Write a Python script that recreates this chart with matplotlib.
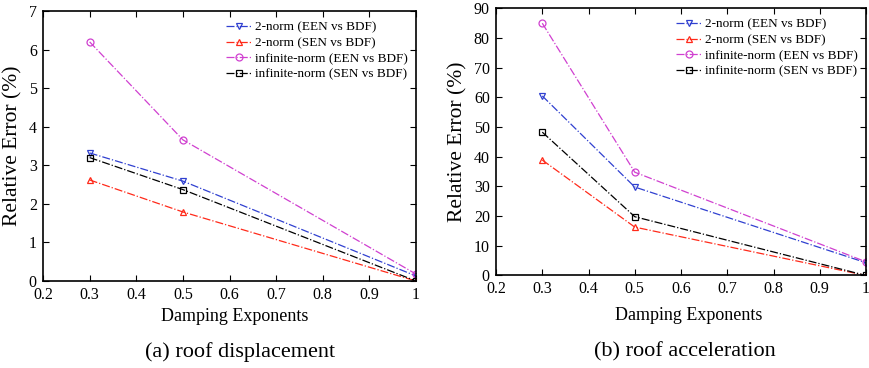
import matplotlib
matplotlib.use("Agg")
import matplotlib.pyplot as plt

plt.rcParams['font.family'] = ['Liberation Serif', 'DejaVu Serif']

x = [0.3, 0.5, 1.0]
labels = ['2-norm (EEN vs BDF)', '2-norm (SEN vs BDF)',
          'infinite-norm (EEN vs BDF)', 'infinite-norm (SEN vs BDF)']

disp_2norm_een = [3.32, 2.59, 0.13]
disp_2norm_sen = [2.62, 1.79, 0.0]
disp_inf_een = [6.2, 3.66, 0.18]
disp_inf_sen = [3.2, 2.37, 0.0]

acc_2norm_een = [60.5, 29.8, 4.3]
acc_2norm_sen = [38.9, 16.3, 0.0]
acc_inf_een = [85.0, 34.8, 4.6]
acc_inf_sen = [48.3, 19.8, 0.0]

styles = [dict(color='#3040d0', marker='v'),
          dict(color='#ff2a1a', marker='^'),
          dict(color='#d040d0', marker='o'),
          dict(color='black', marker='s')]

fig = plt.figure(figsize=(8.69, 3.68), dpi=100)
ax1 = fig.add_axes([0.0495, 0.2364, 0.4292, 0.7337])
ax2 = fig.add_axes([0.5708, 0.2514, 0.4258, 0.7258])

def draw(ax, series, ylim, yticks, xlab_pos, ylab_x, leg_anchor, cap_x, caption):
    for s, st, lab in zip(series, styles, labels):
        ax.plot(x, s, linestyle='-.', linewidth=0.9, color=st['color'],
                marker=st['marker'], markersize=5, markerfacecolor='none',
                markeredgewidth=0.9, label=lab)
    ax.set_xlim(0.2, 1.0)
    ax.set_ylim(*ylim)
    ax.set_xticks([0.2, 0.3, 0.4, 0.5, 0.6, 0.7, 0.8, 0.9, 1.0])
    ax.set_xticklabels(['0.2', '0.3', '0.4', '0.5', '0.6', '0.7', '0.8', '0.9', '1'])
    ax.set_yticks(yticks)
    ax.tick_params(direction='in', top=True, right=True, labelsize=11.5, length=4)
    ax.tick_params(axis='x', pad=4.2)
    ax.tick_params(axis='y', pad=4.5)
    ax.set_xlabel('Damping Exponents', fontsize=13, va='center')
    ax.xaxis.set_label_coords(*xlab_pos)
    ax.set_ylabel('Relative Error (%)', fontsize=15.5, va='center')
    ax.yaxis.set_label_coords(ylab_x, 0.5)
    for sp in ax.spines.values():
        sp.set_linewidth(1.2)
    ax.legend(loc='upper right', bbox_to_anchor=leg_anchor, frameon=False,
              fontsize=9.5, handlelength=2.0, handletextpad=0.2,
              labelspacing=0.25, borderaxespad=0, borderpad=0)
    fig.text(cap_x, 1 - 352 / 368, caption, ha='center', va='center', fontsize=16)

draw(ax1, [disp_2norm_een, disp_2norm_sen, disp_inf_een, disp_inf_sen],
     (0, 7), range(0, 8), (0.515, -0.133), -0.080, (0.978, 0.961),
     240 / 869, '(a) roof displacement')
draw(ax2, [acc_2norm_een, acc_2norm_sen, acc_inf_een, acc_inf_sen],
     (0, 90), range(0, 91, 10), (0.52, -0.149), -0.103, (0.978, 0.962),
     685 / 869, '(b) roof acceleration')

fig.savefig('out.png', dpi=100)
